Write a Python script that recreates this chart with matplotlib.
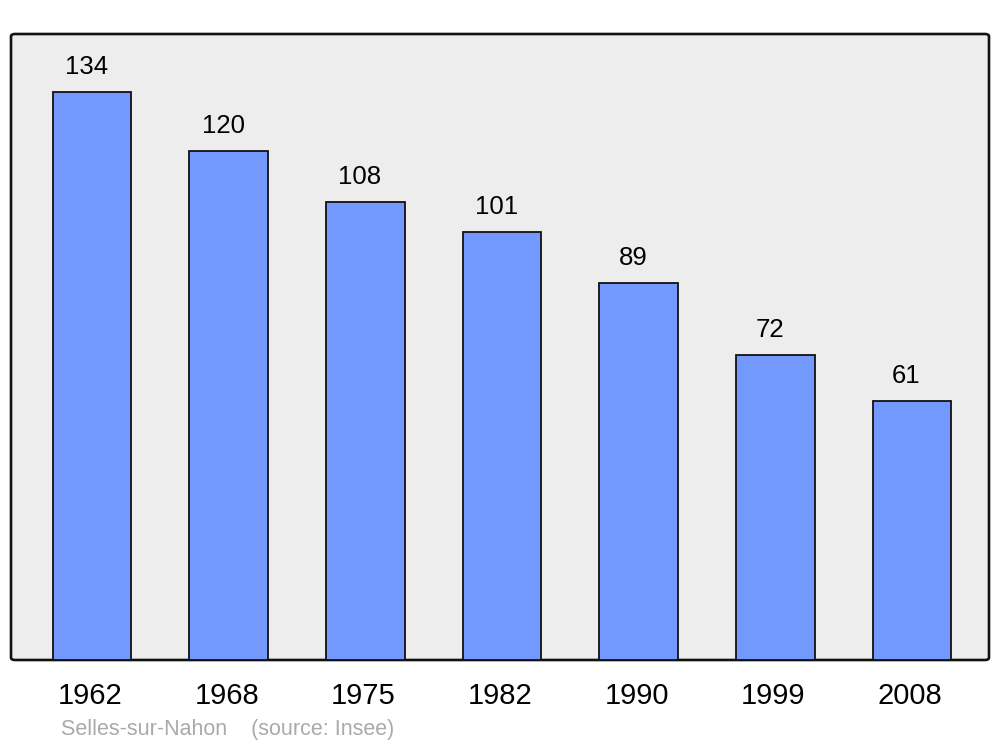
import matplotlib.pyplot as plt
import matplotlib.transforms as mtransforms
from matplotlib.patches import FancyBboxPatch

plt.rcParams['font.family'] = ['Liberation Sans', 'DejaVu Sans']

# données
annees = ['1962', '1968', '1975', '1982', '1990', '1999', '2008']
population = [134, 120, 108, 101, 89, 72, 61]
commune = 'Selles-sur-Nahon'

fig = plt.figure(figsize=(10, 7.47), dpi=100)
ax = fig.add_axes([0.011, 87 / 747, 0.978, 626 / 747])

# cadre arrondi gris
cadre = FancyBboxPatch((0, 0), 1, 1, boxstyle='round,pad=0,rounding_size=0.004',
                       transform=ax.transAxes, facecolor='#ededed',
                       edgecolor='#111111', linewidth=1.9, zorder=0, clip_on=False)
ax.add_patch(cadre)
ax.set_facecolor('none')
for s in ax.spines.values():
    s.set_visible(False)

x = range(len(annees))
bars = ax.bar(x, population, width=0.575, color='#7399ff', edgecolor='#111111',
              linewidth=1.3, zorder=2)

for xi, v in zip(x, population):
    ax.annotate(str(v), (xi, v), xytext=(-4, 18), textcoords='offset points',
                ha='center', va='center', fontsize=18.5, color='black')

ax.set_xlim(-0.593, 6.563)
ax.set_ylim(0, 147.7)
ax.set_xticks(list(x))
ax.set_xticklabels(annees, fontsize=21)
ax.tick_params(axis='x', length=0, pad=16)
ax.set_yticks([])
decal = mtransforms.ScaledTranslation(-2 / 100, 0, fig.dpi_scale_trans)
for lab in ax.get_xticklabels():
    lab.set_transform(lab.get_transform() + decal)

fig.text(0.061, 1 - 730 / 747, commune + '    (source: Insee)', fontsize=15.5,
         color='#aaaaaa', ha='left', va='center')

fig.savefig('out.png', dpi=100)
